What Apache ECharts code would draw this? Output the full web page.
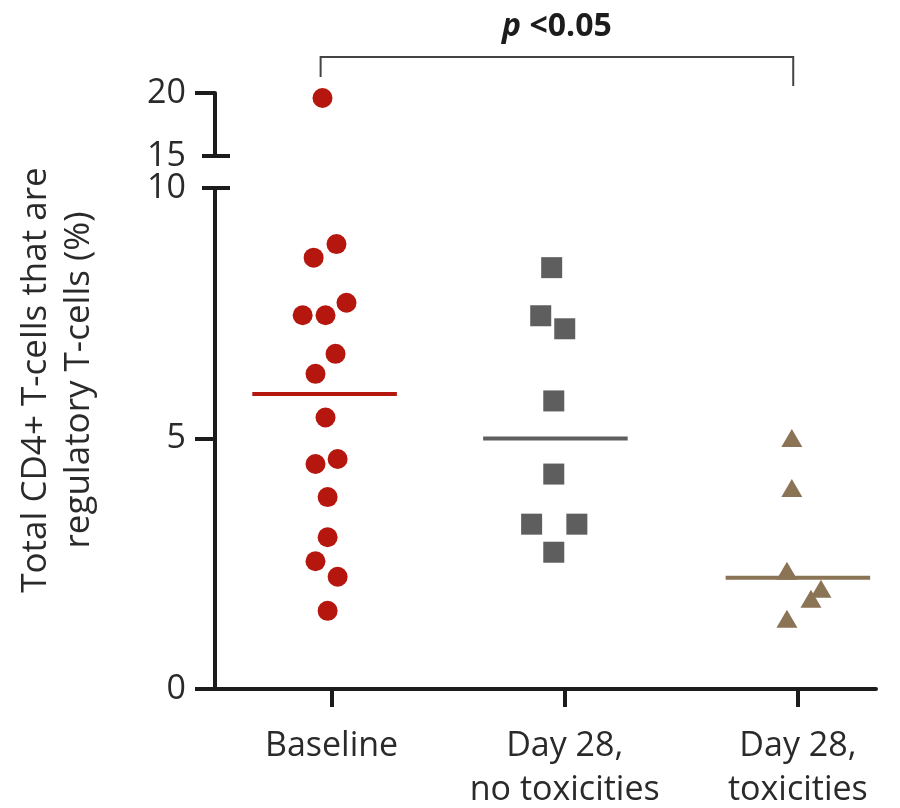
<!DOCTYPE html>
<html><head><meta charset="utf-8">
<script src="https://cdn.jsdelivr.net/npm/echarts@6/dist/echarts.min.js"></script>
<style>html,body{margin:0;padding:0;background:#fff}#c{width:900px;height:808px}</style>
</head><body><div id="c"></div>
<script>
// ---- data ----
const categories = ['Baseline', 'Day 28,\nno toxicities', 'Day 28,\ntoxicities'];
const baselineValues = [19.6, 8.88, 8.61, 7.71, 7.46, 7.46, 6.69, 6.29, 5.42, 4.59, 4.49, 3.83, 3.03, 2.55, 2.24, 1.56];
const baselineJitter = [0.961, 1.021, 0.923, 1.064, 0.876, 0.974, 1.017, 0.931, 0.974, 1.026, 0.931, 0.983, 0.983, 0.931, 1.026, 0.983];
const noToxValues = [8.41, 7.45, 7.19, 5.75, 4.29, 3.29, 3.29, 2.73];
const noToxJitter = [1.944, 1.897, 2.0, 1.953, 1.953, 1.858, 2.052, 1.953];
const toxValues = [5.01, 4.01, 2.36, 2.0, 1.8, 1.4];
const toxJitter = [2.974, 2.974, 2.953, 3.099, 3.056, 2.953];
const medians = [5.89, 5.0, 2.22];
const lowerTickLabels = [0, 5, 10];
const upperTickLabels = [15, 20];
const yTitle = 'Total CD4+ T-cells that are\nregulatory T-cells (%)';

// ---- style / layout ----
const FONT = 'Open Sans';
const AX = '#1c1c1c';
const AXW = 4;
const TXT = '#2a2a2a';
const colors = ['#b5170f', '#5e5e5e', '#8b7456'];
const symbols = ['circle', 'rect', 'triangle'];
const symbolSizes = [20, 21, [21, 18]];
const groupCenters = [0.97, 1.96, 3.0];
const medianHalf = 0.31;
const breakLow = 10, breakHigh = 15;

function pts(vals, xs, upper) {
  return vals.map((v, i) => [xs[i], v]).filter(d => upper ? d[1] >= breakHigh : d[1] <= breakLow);
}
const groups = [[baselineValues, baselineJitter], [noToxValues, noToxJitter], [toxValues, toxJitter]];
const series = [];
groups.forEach((g, k) => {
  series.push({
    type: 'line', xAxisIndex: 0, yAxisIndex: 0, symbol: 'none', silent: true, z: 1,
    data: [[groupCenters[k] - medianHalf, medians[k]], [groupCenters[k] + medianHalf, medians[k]]],
    lineStyle: { color: colors[k], width: 4 }
  });
  [false, true].forEach(up => {
    series.push({
      type: 'scatter', xAxisIndex: up ? 1 : 0, yAxisIndex: up ? 1 : 0, z: 3,
      symbol: symbols[k], symbolSize: symbolSizes[k],
      itemStyle: { color: colors[k], opacity: 1 },
      data: pts(g[0], g[1], up)
    });
  });
});

const xCommon = { type: 'value', min: 0.5, max: 3.335, splitLine: { show: false } };
const chart = echarts.init(document.getElementById('c'));
chart.setOption({
  animation: false,
  backgroundColor: '#fff',
  grid: [
    { left: 215, right: 24, top: 188, bottom: 119, containLabel: false, outerBoundsMode: 'none' },
    { left: 215, right: 24, top: 93, bottom: 652, containLabel: false, outerBoundsMode: 'none' }
  ],
  xAxis: [
    Object.assign({}, xCommon, {
      gridIndex: 0,
      axisLine: { show: true, lineStyle: { color: AX, width: AXW } },
      axisTick: { show: true, customValues: [1, 2, 3], length: 18, lineStyle: { color: AX, width: AXW } },
      axisLabel: { customValues: [1, 2, 3], formatter: v => categories[Math.round(v) - 1],
        fontFamily: FONT, fontSize: 34, lineHeight: 44, color: TXT, margin: 35 }
    }),
    Object.assign({}, xCommon, { gridIndex: 1, show: false })
  ],
  yAxis: [
    { type: 'value', gridIndex: 0, min: 0, max: 10, interval: 5, splitLine: { show: false },
      axisLine: { show: true, lineStyle: { color: AX, width: AXW } },
      axisTick: { show: true, customValues: [0, 5], length: 20, lineStyle: { color: AX, width: AXW } },
      axisLabel: { customValues: lowerTickLabels, fontFamily: FONT, fontSize: 34, color: TXT, margin: 29 } },
    { type: 'value', gridIndex: 1, min: 15, max: 20, interval: 5, splitLine: { show: false },
      axisLine: { show: true, lineStyle: { color: AX, width: AXW } },
      axisTick: { show: true, customValues: [20], length: 20, lineStyle: { color: AX, width: AXW } },
      axisLabel: { customValues: upperTickLabels, fontFamily: FONT, fontSize: 34, color: TXT, margin: 29 } }
  ],
  series: series
});

// decorations: axis break marks, significance bracket, y title
const ax = chart.convertToPixel({ xAxisIndex: 0 }, 0.5);
const yLow = chart.convertToPixel({ yAxisIndex: 0 }, breakLow);
const yHigh = chart.convertToPixel({ yAxisIndex: 1 }, breakHigh);
const bl = chart.convertToPixel({ xAxisIndex: 0 }, baselineJitter[0] - 0.008);
const br = chart.convertToPixel({ xAxisIndex: 0 }, groupCenters[2] - 0.02);
chart.setOption({
  graphic: [
    { type: 'line', shape: { x1: ax - 13, y1: yLow, x2: ax + 15, y2: yLow }, style: { stroke: AX, lineWidth: AXW } },
    { type: 'line', shape: { x1: ax - 13, y1: yHigh, x2: ax + 15, y2: yHigh }, style: { stroke: AX, lineWidth: AXW } },
    { type: 'polyline', shape: { points: [[bl, 77], [bl, 57], [br, 57], [br, 86]] },
      style: { stroke: '#444', lineWidth: 2, fill: null } },
    { type: 'text', x: (bl + br) / 2, y: 27,
      style: { text: '{i|p} <0.05', rich: { i: { fontStyle: 'italic', fontWeight: 'bold', fontFamily: FONT, fontSize: 32, fill: '#1c1c1c' } },
        fontFamily: FONT, fontWeight: 'bold', fontSize: 32, fill: '#1c1c1c', align: 'center', verticalAlign: 'middle' } },
    { type: 'text', x: 58, y: 380, rotation: Math.PI / 2,
      style: { text: yTitle, fontFamily: FONT, fontSize: 35, lineHeight: 43, fill: TXT, align: 'center', verticalAlign: 'middle' } }
  ]
});
</script></body></html>
